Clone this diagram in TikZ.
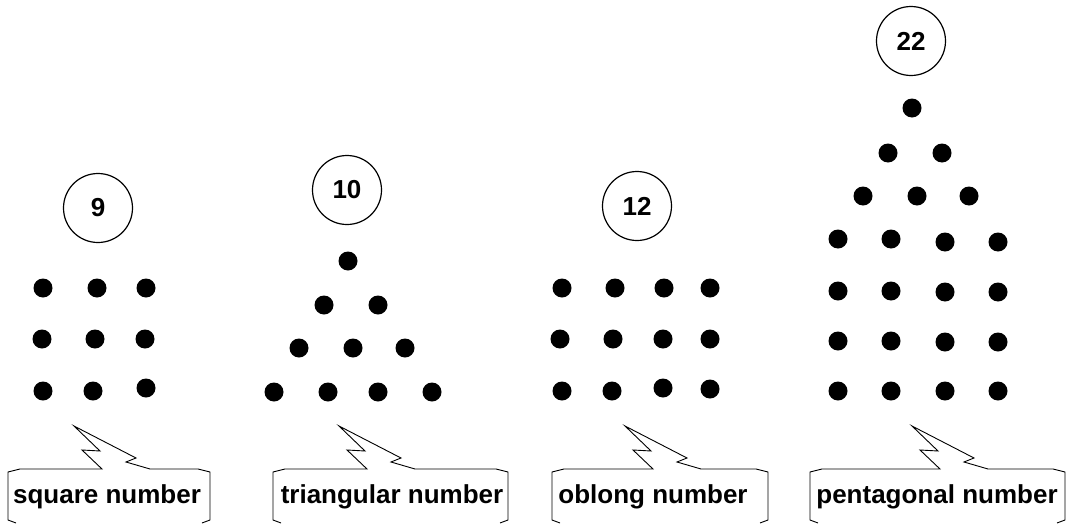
\documentclass[tikz,border=0pt]{standalone}
\usepackage{fontspec}
\setmainfont{Liberation Sans}
\begin{document}
\begin{tikzpicture}[x=1pt,y=-1pt,
  dot/.style={circle,fill=black,inner sep=0pt,minimum size=19pt},
  numcircle/.style={circle,draw=black,line width=1.2pt,minimum size=69pt,inner sep=0pt,
    font=\fontsize{26}{30}\selectfont\bfseries},
  label/.style={anchor=base,inner sep=0pt,font=\fontsize{26}{30}\selectfont\bfseries},
  calloutline/.style={draw=black,line width=0.9pt,line join=miter}]
\useasboundingbox (0,0) rectangle (1066,525);
\newcommand{\mycallout}[3]{%
  \draw[calloutline] (#1+8,523) -- (#1,520) -- (#1,472) -- (#1+12,469)
    -- (#3+28,469) -- (#3+8,450) -- (#3+26,451) -- (#3,426) -- (#3+62,458)
    -- (#3+52,462) -- (#3+76,469) -- (#2-12,469) -- (#2,472) -- (#2,520) -- (#2-8,523);}
% circles with numbers
\node[numcircle] (c9) at (98,208) {9};
\node[numcircle] (c10) at (347,190) {10};
\node[numcircle] (c12) at (637,206) {12};
\node[numcircle] (c22) at (911,41) {22};
% square dots
\node[dot] (s11) at (43,288) {};
\node[dot] (s12) at (97,288) {};
\node[dot] (s13) at (146,288) {};
\node[dot] (s21) at (42,339) {};
\node[dot] (s22) at (95,339) {};
\node[dot] (s23) at (145,339) {};
\node[dot] (s31) at (43,391) {};
\node[dot] (s32) at (93,391) {};
\node[dot] (s33) at (146,388) {};
% triangular dots
\node[dot] (t1) at (348,261) {};
\node[dot] (t21) at (324,305) {};
\node[dot] (t22) at (378,305) {};
\node[dot] (t31) at (299,348) {};
\node[dot] (t32) at (353,348) {};
\node[dot] (t33) at (405,348) {};
\node[dot] (t41) at (274,392) {};
\node[dot] (t42) at (328,392) {};
\node[dot] (t43) at (378,392) {};
\node[dot] (t44) at (432,392) {};
% oblong dots
\node[dot] (o11) at (562,288) {};
\node[dot] (o12) at (615,288) {};
\node[dot] (o13) at (664,288) {};
\node[dot] (o14) at (710,288) {};
\node[dot] (o21) at (560,339) {};
\node[dot] (o22) at (613,339) {};
\node[dot] (o23) at (663,339) {};
\node[dot] (o24) at (710,339) {};
\node[dot] (o31) at (562,391) {};
\node[dot] (o32) at (612,391) {};
\node[dot] (o33) at (663,388) {};
\node[dot] (o34) at (710,389) {};
% pentagonal dots
\node[dot] (p1) at (912,108) {};
\node[dot] (p21) at (888,153) {};
\node[dot] (p22) at (942,153) {};
\node[dot] (p31) at (863,196) {};
\node[dot] (p32) at (917,196) {};
\node[dot] (p33) at (969,196) {};
\node[dot] (p41) at (838,239) {};
\node[dot] (p42) at (891,239) {};
\node[dot] (p43) at (945,242) {};
\node[dot] (p44) at (998,242) {};
\node[dot] (p51) at (838,291) {};
\node[dot] (p52) at (891,291) {};
\node[dot] (p53) at (945,292) {};
\node[dot] (p54) at (998,292) {};
\node[dot] (p61) at (838,341) {};
\node[dot] (p62) at (891,341) {};
\node[dot] (p63) at (945,342) {};
\node[dot] (p64) at (998,342) {};
\node[dot] (p71) at (838,391) {};
\node[dot] (p72) at (891,391) {};
\node[dot] (p73) at (945,391) {};
\node[dot] (p74) at (998,391) {};
% callouts
\mycallout{8}{210}{74}
\mycallout{273}{508}{339}
\mycallout{552}{768}{625}
\mycallout{810}{1065}{912}
% labels
\node[label] (lsq) at (107,503) {square number};
\node[label] (ltr) at (392,503) {triangular number};
\node[label] (lob) at (653,503) {oblong number};
\node[label] (lpe) at (937,503) {pentagonal number};
\end{tikzpicture}
\end{document}
